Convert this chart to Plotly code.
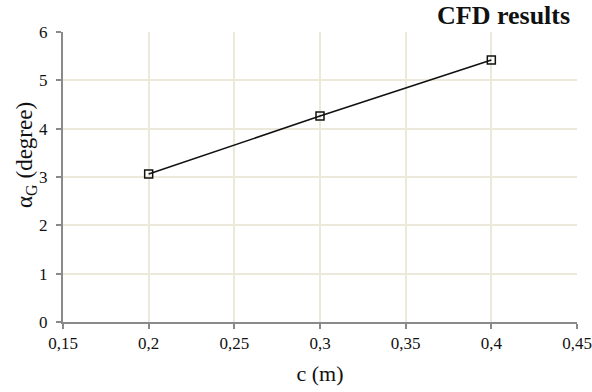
import plotly.graph_objects as go

c_values = [0.2, 0.3, 0.4]
alpha_values = [3.06, 4.26, 5.42]
x_ticks = [0.15, 0.2, 0.25, 0.3, 0.35, 0.4, 0.45]
x_tick_labels = ["0,15", "0,2", "0,25", "0,3", "0,35", "0,4", "0,45"]
y_ticks = [0, 1, 2, 3, 4, 5, 6]

font_family = "Liberation Serif"
text_color = "#111111"

fig = go.Figure()
fig.add_trace(go.Scatter(
    x=c_values, y=alpha_values, mode="lines+markers",
    line=dict(color="#111111", width=1.6),
    marker=dict(symbol="square-open", size=8, color="#111111", line=dict(width=1.5)),
    showlegend=False,
))

axis_common = dict(
    showgrid=True, gridcolor="#ECE8DA", gridwidth=1.5,
    showline=True, linecolor="#8a8a8a", linewidth=2,
    ticks="outside", ticklen=5, tickcolor="#8a8a8a", tickwidth=1.5,
    tickfont=dict(size=17, family=font_family, color=text_color),
    zeroline=False, automargin=False,
)

fig.update_layout(
    width=592, height=392,
    margin=dict(l=63, r=15, t=32, b=70),
    paper_bgcolor="white", plot_bgcolor="white",
    font=dict(family=font_family, size=17, color=text_color),
    xaxis=dict(
        range=[0.15, 0.45], tickmode="array", tickvals=x_ticks, ticktext=x_tick_labels,
        title=dict(text="c (m)", font=dict(size=22, family=font_family, color=text_color), standoff=13),
        **axis_common,
    ),
    yaxis=dict(
        range=[0, 6], tickmode="array", tickvals=y_ticks, ticktext=[str(v) for v in y_ticks],
        ticklabelstandoff=5,
        **axis_common,
    ),
    annotations=[
        dict(
            text="<b>CFD results</b>", xref="paper", yref="paper",
            x=0.99, y=1, xanchor="right", yanchor="bottom", yshift=0,
            showarrow=False, font=dict(family=font_family, size=26, color=text_color),
        ),
        dict(
            text="α<sub>G</sub> (degree)", xref="paper", yref="paper",
            x=0, y=0.576, xanchor="center", yanchor="middle", xshift=-37,
            textangle=-90, showarrow=False,
            font=dict(family=font_family, size=23, color=text_color),
        ),
    ],
)

fig.write_html("out.html")
